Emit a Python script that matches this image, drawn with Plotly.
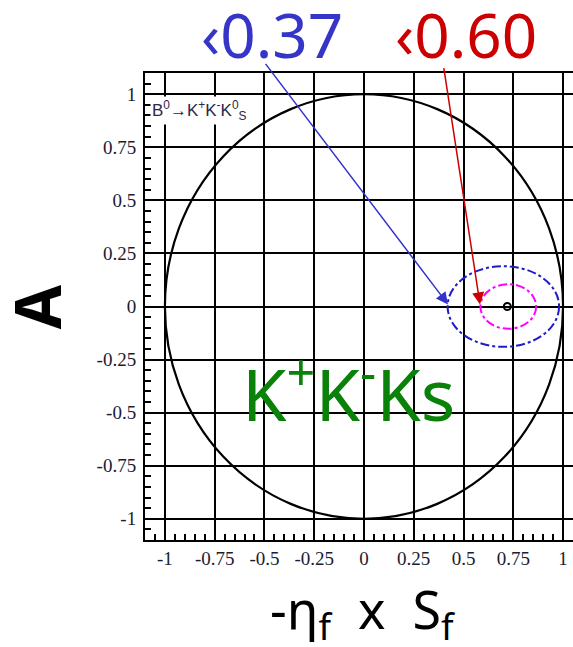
import plotly.graph_objects as go

# ---- data ----
x_ticks = [-1, -0.75, -0.5, -0.25, 0, 0.25, 0.5, 0.75, 1]
x_ticklabels = ["-1", "-0.75", "-0.5", "-0.25", "0", "0.25", "0.5", "0.75", "1"]
y_ticks = [-1, -0.75, -0.5, -0.25, 0, 0.25, 0.5, 0.75, 1]
y_ticklabels = ["-1", "-0.75", "-0.5", "-0.25", "0", "0.25", "0.5", "0.75", "1"]

# physical boundary (unit circle) and contours: center x, center y, radius x, radius y
boundary = dict(cx=0.0, cy=0.0, rx=1.0, ry=1.0)
contour_blue = dict(cx=0.70, cy=0.0, rx=0.28, ry=0.19)      # outer contour
contour_magenta = dict(cx=0.725, cy=0.0, rx=0.14, ry=0.105)  # inner contour
central_value_x = [0.72]
central_value_y = [0.0]

label_blue = "‹0.37"
label_red = "‹0.60"
decay_label = "B<sup>0</sup>→K<sup>+</sup>K<sup>-</sup>K<sup>0</sup><sub>S</sub>"
channel_label = "K<sup>+</sup>K<sup>-</sup>Ks"

# ---- figure ----
fig = go.Figure()
fig.add_trace(go.Scatter(
    x=central_value_x, y=central_value_y, mode="markers",
    marker=dict(symbol="circle-open", size=7, color="black", line=dict(width=2)),
    showlegend=False, hoverinfo="skip"))


def ellipse(c, color, dash, width=2):
    return dict(type="circle", xref="x", yref="y",
                x0=c["cx"] - c["rx"], x1=c["cx"] + c["rx"],
                y0=c["cy"] - c["ry"], y1=c["cy"] + c["ry"],
                line=dict(color=color, width=width, dash=dash), layer="above")


fig.update_layout(shapes=[
    ellipse(boundary, "black", "solid", 2.2),
    ellipse(contour_blue, "#1c1cc8", "dashdot", 2),
    ellipse(contour_magenta, "#ff00ff", "dashdot", 2),
])

tickfont = dict(family="Liberation Serif", size=19, color="#1c1c30")
fig.update_xaxes(range=[-1.1, 1.05], tickvals=x_ticks, ticktext=x_ticklabels,
                 showgrid=True, gridcolor="black", gridwidth=2,
                 showline=True, linecolor="black", linewidth=2, mirror=True,
                 ticks="inside", ticklen=10, tickcolor="black", tickwidth=2,
                 minor=dict(dtick=0.05, tick0=0, ticks="inside", ticklen=6,
                            tickcolor="black", tickwidth=1.5, showgrid=False),
                 zeroline=False, tickfont=tickfont, ticklabelstandoff=0)
fig.update_yaxes(range=[-1.1, 1.1], tickvals=y_ticks, ticktext=y_ticklabels,
                 showgrid=True, gridcolor="black", gridwidth=2,
                 showline=True, linecolor="black", linewidth=2, mirror=False,
                 ticks="inside", ticklen=10, tickcolor="black", tickwidth=2,
                 minor=dict(dtick=0.05, tick0=0, ticks="inside", ticklen=6,
                            tickcolor="black", tickwidth=1.5, showgrid=False),
                 zeroline=False, tickfont=tickfont, ticklabelstandoff=3)

annotations = [
    # arrows
    dict(x=0.422, y=0.01, ax=-0.50, ay=1.15, xref="x", yref="y", axref="x", ayref="y",
         showarrow=True, arrowhead=2, arrowsize=1.6, arrowwidth=1.5, arrowcolor="#3333cc", text=""),
    dict(x=0.583, y=0.01, ax=0.40, ay=1.13, xref="x", yref="y", axref="x", ayref="y",
         showarrow=True, arrowhead=2, arrowsize=1.6, arrowwidth=1.5, arrowcolor="#cc0000", text=""),
    # labels
    dict(x=0.297, y=1.083, xref="paper", yref="paper", text=label_blue, showarrow=False,
         font=dict(family="Noto Sans", size=62, color="#3535c8"), xanchor="center", yanchor="middle"),
    dict(x=0.75, y=1.083, xref="paper", yref="paper", text=label_red, showarrow=False,
         font=dict(family="Noto Sans", size=62, color="#cc0000"), xanchor="center", yanchor="middle"),
    dict(x=-0.08, y=-0.39, xref="x", yref="y", text=channel_label, showarrow=False,
         font=dict(family="Noto Sans", size=72, color="#0a820a"), xanchor="center", yanchor="middle"),
    dict(x=-1.075, y=0.925, xref="x", yref="y", text=decay_label, showarrow=False,
         font=dict(family="Liberation Sans", size=17, color="#2a2a4a"), xanchor="left", yanchor="middle",
         bgcolor="white"),
    # axis titles
    dict(x=0.51, y=-0.155, xref="paper", yref="paper", text="-η<sub>f</sub>  x  S<sub>f</sub>",
         showarrow=False, font=dict(family="Noto Sans", size=52, color="black"),
         xanchor="center", yanchor="middle"),
    dict(x=-0.253, y=0.50, xref="paper", yref="paper", text="<b>A</b>", textangle=-90,
         showarrow=False, font=dict(family="Noto Sans", size=64, color="black"),
         xanchor="center", yanchor="middle"),
]
fig.update_layout(annotations=annotations)

fig.update_layout(width=573, height=647,
                  margin=dict(l=145, r=0, t=73, b=107),
                  paper_bgcolor="white", plot_bgcolor="white",
                  showlegend=False)

fig.write_html("out.html")
